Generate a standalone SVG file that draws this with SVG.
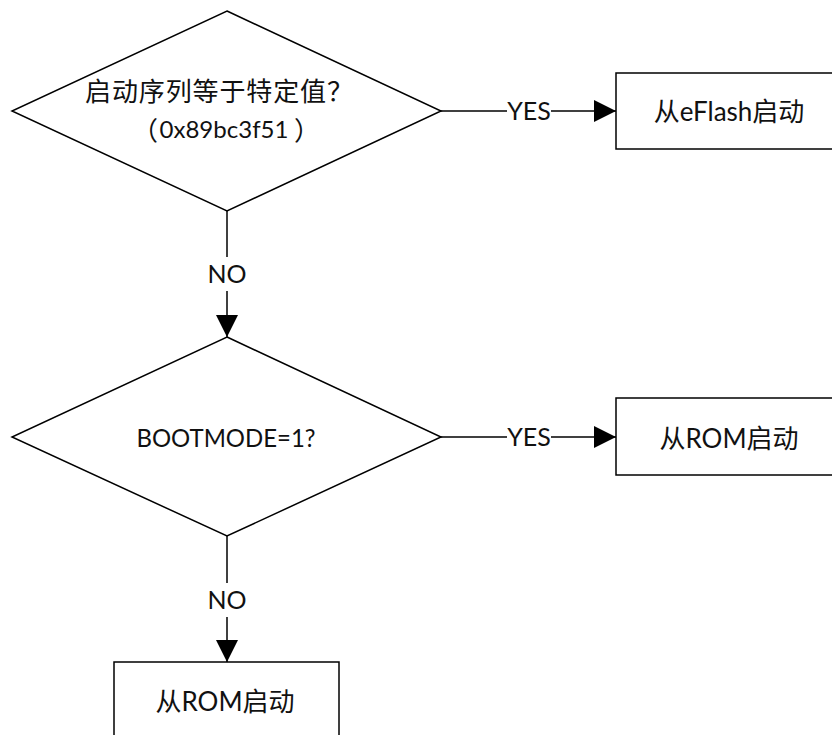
<svg xmlns="http://www.w3.org/2000/svg" width="832" height="735" viewBox="0 0 832 735">
  <style>
    .shape { fill: #ffffff; stroke: #000000; stroke-width: 1.5; }
    .wire { fill: none; stroke: #000000; stroke-width: 1.5; }
    .txt { font-family: Lato, "Noto Sans CJK SC", sans-serif; fill: #111111; text-anchor: middle; }
    .cjk { font-family: "Noto Sans CJK SC", sans-serif; }
    .cn { font-size: 26px; }
    .lbl { font-size: 25px; }
  </style>
  <defs>
    <marker id="arrow" markerUnits="userSpaceOnUse" markerWidth="22" markerHeight="22" viewBox="0 0 20 20" refX="20" refY="10" orient="auto">
      <path d="M0,0 L20,10 L0,20 Z" fill="#000000"/>
    </marker>
  </defs>

  <rect width="832" height="735" fill="#ffffff"/>

  <!-- connectors -->
  <g id="connectors">
    <!-- decision 1 YES -> eFlash -->
    <line class="wire" x1="441" y1="111" x2="507" y2="111"/>
    <line class="wire" x1="551" y1="111" x2="616" y2="111" marker-end="url(#arrow)"/>
    <text class="txt lbl" x="529" y="120">YES</text>
    <!-- decision 1 NO -> decision 2 -->
    <line class="wire" x1="227" y1="211" x2="227" y2="257"/>
    <line class="wire" x1="227" y1="291" x2="227" y2="337" marker-end="url(#arrow)"/>
    <text class="txt lbl" x="227" y="283">NO</text>
    <!-- decision 2 YES -> ROM -->
    <line class="wire" x1="441" y1="437" x2="507" y2="437"/>
    <line class="wire" x1="551" y1="437" x2="616" y2="437" marker-end="url(#arrow)"/>
    <text class="txt lbl" x="529" y="446">YES</text>
    <!-- decision 2 NO -> ROM -->
    <line class="wire" x1="227" y1="536" x2="227" y2="583"/>
    <line class="wire" x1="227" y1="617" x2="227" y2="662" marker-end="url(#arrow)"/>
    <text class="txt lbl" x="227" y="609">NO</text>
  </g>

  <!-- decision: boot sequence check -->
  <g id="decision-seq">
    <polygon class="shape" points="227,11 441,111 227,211 12,111"/>
    <text class="txt cn" x="219" y="101" textLength="268" lengthAdjust="spacing">启动序列等于特定值？</text>
    <text class="txt cjk" font-size="26" x="145" y="140" text-anchor="end">（</text>
    <text class="txt" font-size="24" x="224" y="138" textLength="129" lengthAdjust="spacingAndGlyphs">0x89bc3f51</text>
    <text class="txt cjk" font-size="26" x="307" y="140" text-anchor="start">）</text>
  </g>

  <!-- decision: BOOTMODE pin -->
  <g id="decision-bootmode">
    <polygon class="shape" points="227,337 441,437 227,536 12,437"/>
    <text class="txt lbl" x="226" y="447" textLength="179" lengthAdjust="spacingAndGlyphs">BOOTMODE=1?</text>
  </g>

  <!-- boot from eFlash -->
  <g id="boot-eflash">
    <rect class="shape" x="616" y="73" width="225" height="76"/>
    <text class="txt cn" x="729" y="121">从eFlash启动</text>
  </g>

  <!-- boot from ROM (BOOTMODE=1) -->
  <g id="boot-rom-1">
    <rect class="shape" x="616" y="398" width="225" height="77"/>
    <text class="txt cn" x="729" y="448">从ROM启动</text>
  </g>

  <!-- boot from ROM (fallback) -->
  <g id="boot-rom-2">
    <rect class="shape" x="114" y="662" width="225" height="76"/>
    <text class="txt cn" x="225" y="711">从ROM启动</text>
  </g>
</svg>
